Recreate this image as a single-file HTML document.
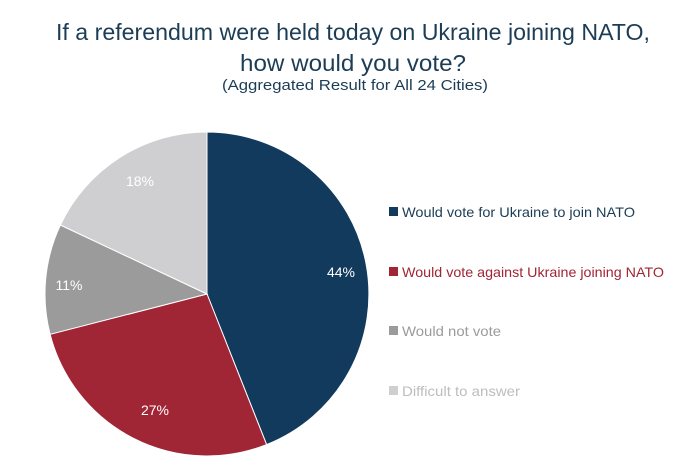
<!DOCTYPE html>
<html><head><meta charset="utf-8"><style>
body{margin:0;background:#fff;}
svg{display:block;font-family:"Liberation Sans",sans-serif;}
</style></head><body>
<svg width="690" height="470" viewBox="0 0 690 470">
<text x="353" y="40" text-anchor="middle" font-size="23" fill="#1c3d56" textLength="594" lengthAdjust="spacingAndGlyphs">If a referendum were held today on Ukraine joining NATO,</text>
<text x="353" y="71" text-anchor="middle" font-size="23" fill="#1c3d56" textLength="226" lengthAdjust="spacingAndGlyphs">how would you vote?</text>
<text x="355" y="90" text-anchor="middle" font-size="15" fill="#1c3d56" textLength="266" lengthAdjust="spacingAndGlyphs">(Aggregated Result for All 24 Cities)</text>
<g stroke="#fff" stroke-width="1">
<path d="M207,294 L207,132 A162,162 0 0 1 266.6,444.6 Z" fill="#123a5c"/>
<path d="M207,294 L266.6,444.6 A162,162 0 0 1 50.1,334.3 Z" fill="#a02535"/>
<path d="M207,294 L50.1,334.3 A162,162 0 0 1 60.4,225 Z" fill="#9b9b9b"/>
<path d="M207,294 L60.4,225 A162,162 0 0 1 207,132 Z" fill="#cfcfd1"/>
</g>
<g font-size="14" fill="#fff" text-anchor="middle">
<text x="341" y="277">44%</text>
<text x="155" y="415">27%</text>
<text x="69" y="290">11%</text>
<text x="140" y="186">18%</text>
</g>
<g font-size="14">
<rect x="389" y="207" width="9" height="9" fill="#123a5c"/>
<text x="402" y="217" fill="#1c3d56" textLength="233" lengthAdjust="spacingAndGlyphs">Would vote for Ukraine to join NATO</text>
<rect x="389" y="267" width="9" height="9" fill="#a02535"/>
<text x="402" y="277" fill="#a02535" textLength="262" lengthAdjust="spacingAndGlyphs">Would vote against Ukraine joining NATO</text>
<rect x="389" y="326" width="9" height="9" fill="#9b9b9b"/>
<text x="402" y="336" fill="#9b9b9b" textLength="99" lengthAdjust="spacingAndGlyphs">Would not vote</text>
<rect x="389" y="386" width="9" height="9" fill="#cfcfd1"/>
<text x="402" y="396" fill="#bdbdbf" textLength="118" lengthAdjust="spacingAndGlyphs">Difficult to answer</text>
</g>
</svg>
</body></html>
